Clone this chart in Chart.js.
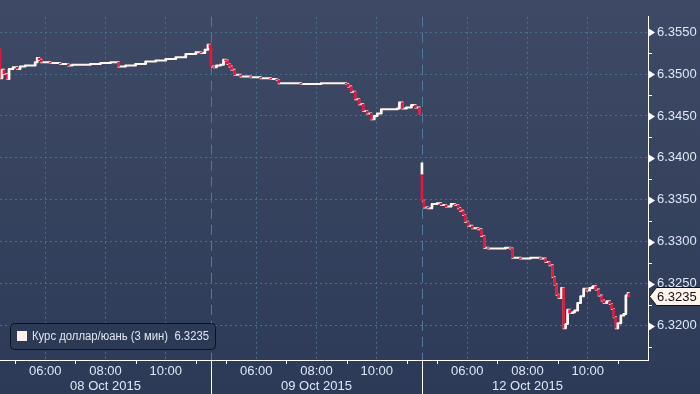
<!DOCTYPE html>
<html>
<head>
<meta charset="utf-8">
<script src="https://cdn.jsdelivr.net/npm/chart.js@4/dist/chart.umd.min.js"></script>
<style>
  html, body { margin: 0; padding: 0; background: #2e3b58; }
</style>
</head>
<body>
<canvas id="chart" width="700" height="394"></canvas>
<script>
// Series and axis data
const seriesName = 'Курс доллар/юань (3 мин)';
const lastValue = 6.3235;
const dayLabels = ['08 Oct 2015', '09 Oct 2015', '12 Oct 2015'];
const dayOpens = [6.3530, 6.3531, 6.3380];
const dayOpenHighs = [6.3530, 6.3531, 6.3394];
const tickHours = [6, 8, 10];
const tickLabels = ['06:00', '08:00', '10:00'];
const yTicks = [6.3200, 6.3250, 6.3300, 6.3350, 6.3400, 6.3450, 6.3500, 6.3550];

const day1Times = ['04:30', '04:34', '04:38', '04:44', '04:48', '04:56', '05:04', '05:10', '05:20', '05:30',
  '05:40', '05:44', '05:48', '05:52', '06:10', '06:30', '06:46', '06:54', '07:10', '07:30',
  '07:50', '08:10', '08:26', '08:40', '09:00', '09:20', '09:40', '10:00', '10:20', '10:40',
  '11:00', '11:10', '11:18', '11:24', '11:28'];
const day1Values = [6.3495, 6.3505, 6.3500, 6.3494, 6.3506, 6.3508, 6.3506, 6.3509, 6.3510, 6.3510,
  6.3514, 6.3519, 6.3517, 6.3514, 6.3513, 6.3512, 6.3510, 6.3511, 6.3511, 6.3512,
  6.3513, 6.3514, 6.3509, 6.3510, 6.3512, 6.3515, 6.3516, 6.3518, 6.3520, 6.3524,
  6.3526, 6.3525, 6.3529, 6.3535, 6.3531];

const day2Times = ['04:30', '04:36', '04:41', '04:49', '04:55', '04:59', '05:03', '05:07', '05:11', '05:17',
  '05:29', '05:49', '06:09', '06:29', '06:41', '06:45', '07:09', '07:29', '08:09', '08:39',
  '08:59', '09:03', '09:09', '09:17', '09:25', '09:33', '09:41', '09:49', '09:55', '10:01',
  '10:09', '10:19', '10:33', '10:41', '10:45', '10:51', '10:59', '11:09', '11:17', '11:25'];
const day2Values = [6.3509, 6.3508, 6.3510, 6.3511, 6.3517, 6.3516, 6.3512, 6.3509, 6.3505, 6.3499,
  6.3497, 6.3496, 6.3495, 6.3494, 6.3493, 6.3489, 6.3489, 6.3488, 6.3489, 6.3489,
  6.3488, 6.3485, 6.3479, 6.3470, 6.3464, 6.3456, 6.3453, 6.3446, 6.3450, 6.3453,
  6.3458, 6.3458, 6.3458, 6.3459, 6.3466, 6.3459, 6.3460, 6.3463, 6.3460, 6.3452];

const day3Times = ['04:30', '04:34', '04:42', '04:50', '05:00', '05:08', '05:18', '05:28', '05:36', '05:42',
  '05:46', '05:52', '05:56', '06:02', '06:10', '06:22', '06:28', '06:34', '06:42', '06:56',
  '07:16', '07:26', '07:30', '07:46', '08:06', '08:26', '08:36', '08:44', '08:50', '08:54',
  '08:58', '09:02', '09:08', '09:12', '09:16', '09:20', '09:24', '09:30', '09:34', '09:40',
  '09:46', '09:52', '09:58', '10:04', '10:10', '10:16', '10:22', '10:28', '10:32', '10:38',
  '10:44', '10:48', '10:52', '10:56', '11:00', '11:06', '11:12', '11:16', '11:20', '11:22'];
const day3Values = [6.3349, 6.3341, 6.3340, 6.3345, 6.3346, 6.3344, 6.3342, 6.3345, 6.3344, 6.3340,
  6.3337, 6.3332, 6.3324, 6.3319, 6.3316, 6.3315, 6.3307, 6.3293, 6.3292, 6.3292,
  6.3293, 6.3292, 6.3281, 6.3280, 6.3281, 6.3280, 6.3276, 6.3272, 6.3258, 6.3249,
  6.3237, 6.3233, 6.3245, 6.3197, 6.3202, 6.3219, 6.3215, 6.3216, 6.3218, 6.3227,
  6.3235, 6.3244, 6.3242, 6.3245, 6.3247, 6.3243, 6.3236, 6.3230, 6.3227, 6.3229,
  6.3226, 6.3220, 6.3210, 6.3197, 6.3203, 6.3212, 6.3214, 6.3236, 6.3239, 6.3235];

const dayTimes = [day1Times, day2Times, day3Times];
const dayValues = [day1Values, day2Values, day3Values];

const SESSION_START = 4.5;   // 04:30
const SESSION_LEN = 7;       // hours per session
const X_MAX = 21.5;
const Y_MIN = 6.31591, Y_MAX = 6.35682;
const RED = '#e3173e', WHITE = '#fff6f0';
const GRID = '#4a6f8e';
const FONT = "'Liberation Sans', Arial, sans-serif";

const toX = (d, t) => {
  const [h, m] = t.split(':').map(Number);
  return d * SESSION_LEN + h + m / 60 - SESSION_START;
};

// one stepped line per session, bars for each 3-min move
const lineSets = [];
const bars = [];
const barColors = [];
dayTimes.forEach((times, d) => {
  const pts = times.map((t, i) => ({ x: toX(d, t), y: dayValues[d][i] }));
  lineSets.push({
    type: 'line',
    data: pts,
    stepped: true,
    borderColor: WHITE,
    borderWidth: 2,
    pointRadius: 0,
    order: 2
  });
  // opening wick above the first bar
  if (dayOpenHighs[d] > dayOpens[d]) {
    bars.push({ x: pts[0].x, y: [dayOpenHighs[d], dayOpens[d]] });
    barColors.push(WHITE);
  }
  pts.forEach((p, i) => {
    const prev = i === 0 ? dayOpens[d] : pts[i - 1].y;
    if (prev === p.y) return;
    bars.push({ x: p.x, y: [prev, p.y] });
    barColors.push(p.y < prev ? RED : WHITE);
  });
});

const decor = {
  id: 'decor',
  beforeDraw(chart) {
    const { ctx, width, height } = chart;
    const g = ctx.createLinearGradient(0, 0, 0, height);
    g.addColorStop(0, '#3e4a65');
    g.addColorStop(0.91, '#2f3c59');
    g.addColorStop(1, '#2d3a57');
    ctx.save();
    ctx.fillStyle = g;
    ctx.fillRect(0, 0, width, height);
    ctx.restore();
  },
  beforeDatasetsDraw(chart) {
    const { ctx, chartArea: a, scales: { x } } = chart;
    ctx.save();
    ctx.strokeStyle = '#4b7c9b';
    ctx.lineWidth = 1;
    ctx.setLineDash([10, 6]);
    for (let d = 1; d < dayLabels.length; d++) {
      const px = Math.round(x.getPixelForValue(d * SESSION_LEN)) + 0.5;
      ctx.beginPath();
      ctx.moveTo(px, a.top);
      ctx.lineTo(px, a.bottom);
      ctx.stroke();
    }
    ctx.restore();
  },
  afterDraw(chart) {
    const { ctx, chartArea: a, scales: { x, y }, width, height } = chart;
    ctx.save();
    ctx.strokeStyle = '#ffffff';
    ctx.fillStyle = '#ffffff';
    ctx.lineWidth = 1;

    // session separators below the axis
    for (let d = 1; d < dayLabels.length; d++) {
      const px = Math.round(x.getPixelForValue(d * SESSION_LEN)) + 0.5;
      ctx.beginPath();
      ctx.moveTo(px, a.bottom);
      ctx.lineTo(px, height);
      ctx.stroke();
    }
    // odd hour ticks
    dayLabels.forEach((_, d) => {
      [5, 7, 9, 11].forEach(h => {
        const v = d * SESSION_LEN + h - SESSION_START;
        if (v > X_MAX) return;
        const px = Math.round(x.getPixelForValue(v)) + 0.5;
        ctx.beginPath();
        ctx.moveTo(px, a.bottom);
        ctx.lineTo(px, a.bottom + 4);
        ctx.stroke();
      });
    });
    // y arrows and minor ticks
    yTicks.forEach(v => {
      const py = Math.round(y.getPixelForValue(v));
      ctx.beginPath();
      ctx.moveTo(a.right, py - 4);
      ctx.lineTo(a.right + 7, py + 0.5);
      ctx.lineTo(a.right, py + 5);
      ctx.closePath();
      ctx.fill();
      const pm = Math.round(y.getPixelForValue(v - 0.0025)) + 0.5;
      if (pm < a.bottom) {
        ctx.beginPath();
        ctx.moveTo(a.right, pm);
        ctx.lineTo(a.right + 4, pm);
        ctx.stroke();
      }
    });
    const pTop = Math.round(y.getPixelForValue(yTicks[yTicks.length - 1] + 0.0025)) + 0.5;
    if (pTop > a.top) {
      ctx.beginPath(); ctx.moveTo(a.right, pTop); ctx.lineTo(a.right + 4, pTop); ctx.stroke();
    }

    // day labels
    ctx.font = '13px ' + FONT;
    ctx.fillStyle = '#dde7f5';
    ctx.textAlign = 'center';
    ctx.textBaseline = 'middle';
    dayLabels.forEach((lbl, d) => {
      ctx.fillText(lbl, x.getPixelForValue(d * SESSION_LEN + SESSION_LEN / 2), 386);
    });

    // last value marker
    const ly = Math.round(y.getPixelForValue(lastValue));
    ctx.beginPath();
    ctx.moveTo(a.right + 1.5, ly + 0.5);
    ctx.lineTo(a.right + 8.5, ly - 8.5);
    ctx.lineTo(width + 1, ly - 8.5);
    ctx.lineTo(width + 1, ly + 9.5);
    ctx.lineTo(a.right + 8.5, ly + 9.5);
    ctx.closePath();
    ctx.fillStyle = '#fdf4ec';
    ctx.fill();
    ctx.strokeStyle = '#111111';
    ctx.stroke();
    ctx.fillStyle = '#111111';
    ctx.textAlign = 'left';
    ctx.fillText(lastValue.toFixed(4), a.right + 9, ly + 1);

    // legend box
    ctx.beginPath();
    ctx.roundRect(10.5, 323.5, 205, 26, 4);
    ctx.fillStyle = '#2d3a56';
    ctx.fill();
    ctx.strokeStyle = '#0c111c';
    ctx.stroke();
    ctx.fillStyle = '#fdf0ea';
    ctx.fillRect(17, 331, 10, 10);
    ctx.font = '12px ' + FONT;
    ctx.fillStyle = '#dfe5ee';
    ctx.fillText(seriesName + '  ' + lastValue.toFixed(4), 32, 337, 177);
    ctx.restore();
  }
};

new Chart(document.getElementById('chart'), {
  type: 'line',
  data: {
    datasets: [
      {
        type: 'bar',
        label: seriesName,
        data: bars,
        backgroundColor: barColors,
        borderWidth: 0,
        barThickness: 2,
        order: 1
      },
      ...lineSets
    ]
  },
  options: {
    responsive: false,
    animation: false,
    layout: { padding: 0 },
    plugins: { legend: { display: false }, tooltip: { enabled: false } },
    scales: {
      x: {
        type: 'linear',
        min: 0,
        max: X_MAX,
        offset: false,
        afterFit: s => { s.height = 34; },
        afterBuildTicks: s => {
          const ticks = [];
          dayLabels.forEach((_, d) => tickHours.forEach(h => ticks.push({ value: d * SESSION_LEN + h - SESSION_START })));
          s.ticks = ticks;
        },
        grid: { offset: false, color: GRID, drawTicks: false },
        border: { display: true, color: '#ffffff', width: 1, dash: [2, 3] },
        ticks: {
          autoSkip: false,
          maxRotation: 0,
          padding: 4,
          color: '#dde7f5',
          font: { family: FONT, size: 13 },
          callback: v => {
            const h = Math.round(((v % SESSION_LEN) + SESSION_START) * 10) / 10;
            const i = tickHours.indexOf(h);
            return i >= 0 ? tickLabels[i] : '';
          }
        }
      },
      y: {
        position: 'right',
        min: Y_MIN,
        max: Y_MAX,
        beginAtZero: false,
        afterFit: s => { s.width = 52; },
        afterBuildTicks: s => { s.ticks = yTicks.map(v => ({ value: v })); },
        grid: { color: GRID, drawTicks: false },
        border: { display: true, color: '#ffffff', width: 1, dash: [2, 3] },
        ticks: {
          padding: 9,
          color: '#dde7f5',
          font: { family: FONT, size: 13 },
          callback: v => Number(v).toFixed(4)
        }
      }
    }
  },
  plugins: [decor]
});
</script>
</body>
</html>
